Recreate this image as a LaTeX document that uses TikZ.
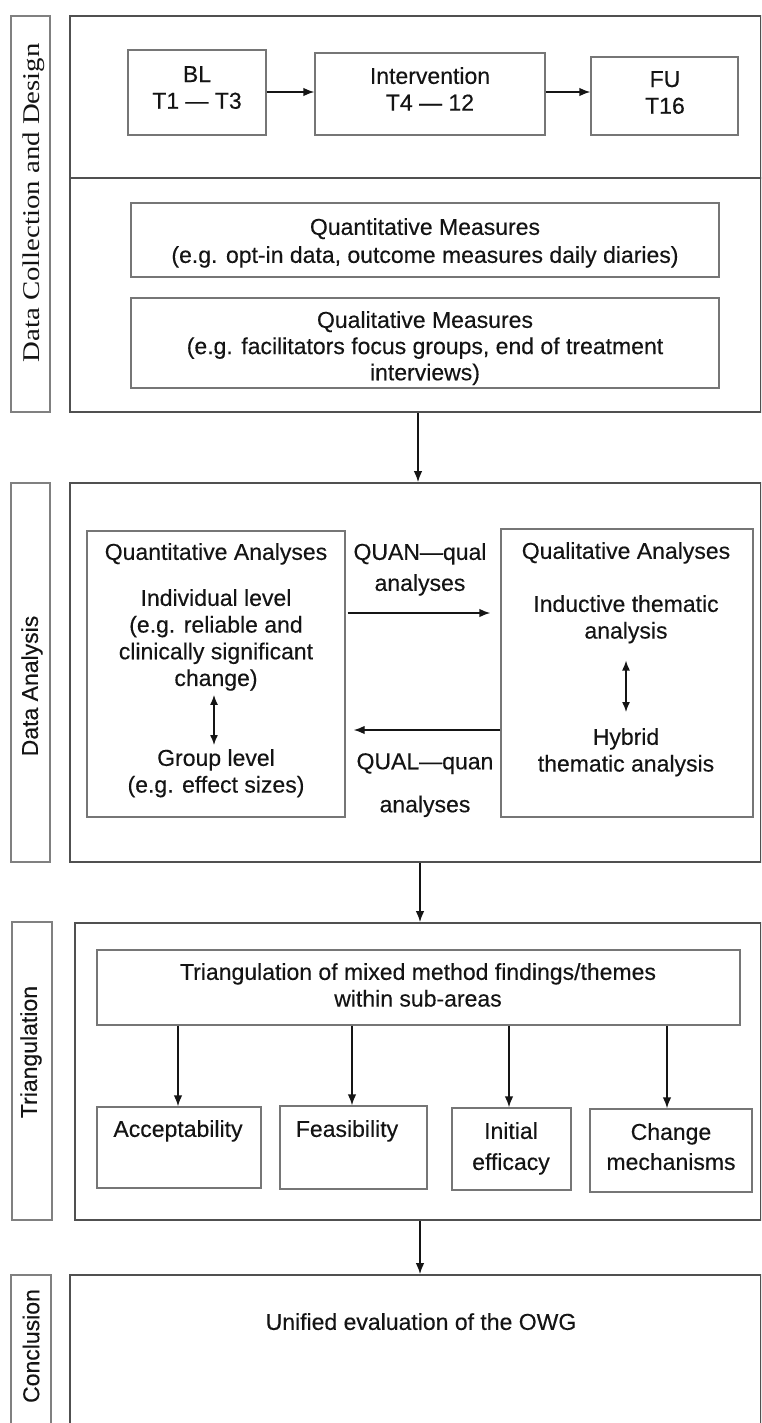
\documentclass[tikz,border=0pt]{standalone}
\usepackage{fontspec}
\setmainfont[FakeBold=0.3]{Liberation Sans}
\newfontfamily\labserif[FakeStretch=1.2]{Liberation Serif}
\usetikzlibrary{arrows.meta}
\definecolor{mainc}{HTML}{505050}
\definecolor{innc}{HTML}{767676}
\definecolor{labc}{HTML}{808080}
\definecolor{arrc}{HTML}{151515}
\begin{document}
\begin{tikzpicture}[x=1pt,y=-1pt,
  mainbox/.style={draw=mainc, line width=1.8pt, inner sep=0pt},
  labbox/.style={draw=labc, line width=1.4pt, inner sep=0pt},
  inbox/.style={draw=innc, line width=1.4pt, inner sep=0pt},
  txt/.style={inner sep=0pt, align=center, anchor=north, text=black!92, font=\fontsize{23}{26.7}\selectfont},
  labtxt/.style={inner sep=0pt, rotate=90, text=black!92, font=\fontsize{23}{26.7}\selectfont},
  arr/.style={draw=arrc, line width=1.4pt, -{Latex[length=11pt,width=8.5pt]}},
  dbl/.style={draw=arrc, line width=1.4pt, {Latex[length=10pt,width=8pt]}-{Latex[length=10pt,width=8pt]}}
]
\useasboundingbox (0,0) rectangle (761,1423);
\clip (0,0) rectangle (761,1423);
\fill[white] (0,0) rectangle (761,1423);

% ---------- Section 1 ----------
\node[labbox, minimum width=39pt, minimum height=396pt] (l1) at (30.5,214) {};
\node[inner sep=0pt, rotate=90, text=black!92, font=\labserif\fontsize{24}{27}\selectfont] (l1t) at (34,203) {Data Collection and Design};
\node[mainbox, minimum width=691pt, minimum height=396pt] (m1) at (415.5,214) {};
\draw[mainc, line width=1.8pt] (m1.west |- 0,178) -- (m1.east |- 0,178);

\node[inbox, minimum width=138pt, minimum height=85pt] (bl) at (197,92.5) {};
\node[txt] (blt) at (197,66) {BL\\T1 --- T3};
\node[inbox, minimum width=230pt, minimum height=82pt] (int) at (430,94) {};
\node[txt] (intt) at (430,67) {Intervention\\T4 --- 12};
\node[inbox, minimum width=147pt, minimum height=78pt] (fu) at (664.5,96) {};
\node[txt] (fut) at (665,71) {FU\\T16};
\draw[arr] (bl.east |- 0,92) -- (int.west |- 0,92);
\draw[arr] (int.east |- 0,92) -- (fu.west |- 0,92);

\node[inbox, minimum width=588pt, minimum height=74pt] (qm) at (425,240) {};
\node[txt, font=\fontsize{23}{28}\selectfont] (qmt) at (425,218) {Quantitative Measures\\(e.g. opt-in data, outcome measures daily diaries)};
\node[inbox, minimum width=588pt, minimum height=90pt] (qlm) at (425,343) {};
\node[txt, font=\fontsize{23}{26.2}\selectfont] (qlmt) at (425,311) {Qualitative Measures\\(e.g. facilitators focus groups, end of treatment\\interviews)};

% ---------- Section 2 ----------
\node[labbox, minimum width=39pt, minimum height=379pt] (l2) at (30.5,672.5) {};
\node[labtxt] (l2t) at (32,686) {Data Analysis};
\node[mainbox, minimum width=691pt, minimum height=379pt] (m2) at (415.5,672.5) {};
\draw[arr] (m1.south -| 418,0) -- (m2.north -| 418,0);

\node[inbox, minimum width=258pt, minimum height=286pt] (qa) at (216,674) {};
\node[txt] (qat) at (216,543) {Quantitative Analyses};
\node[txt] (qai) at (216,589) {Individual level\\(e.g. reliable and\\clinically significant\\change)};
\node[txt] (qag) at (216,749) {Group level\\(e.g. effect sizes)};
\path (qai.south -| 214,0) ++(0,4) coordinate (qd1);
\path (qag.north -| 214,0) ++(0,-4) coordinate (qd2);
\draw[dbl] (qd1) -- (qd2);

\node[inbox, minimum width=252pt, minimum height=288pt] (ql) at (627,673) {};
\node[txt] (qlt) at (626,542) {Qualitative Analyses};
\node[txt] (qli) at (626,595) {Inductive thematic\\analysis};
\node[txt] (qlh) at (626,728) {Hybrid\\thematic analysis};
\path (qli.south) ++(0,17) coordinate (qe1);
\path (qlh.north) ++(0,-16) coordinate (qe2);
\draw[dbl] (qe1) -- (qe2);

\node[txt, font=\fontsize{23}{31}\selectfont] (lab1) at (420,543) {QUAN---qual\\analyses};
\node[txt, font=\fontsize{23}{43}\selectfont] (lab2) at (425,753) {QUAL---quan\\analyses};
\draw[arr, shorten <=2pt, shorten >=10pt] (qa.east |- 0,613) -- (ql.west |- 0,613);
\draw[arr, shorten >=8pt] (ql.west |- 0,730) -- (qa.east |- 0,730);

% ---------- Section 3 ----------
\node[labbox, minimum width=40pt, minimum height=298pt] (l3) at (32,1071) {};
\node[labtxt] (l3t) at (31,1052) {Triangulation};
\node[mainbox, minimum width=686pt, minimum height=297pt] (m3) at (418,1071.5) {};
\draw[arr] (m2.south -| 420,0) -- (m3.north -| 420,0);

\node[inbox, minimum width=643pt, minimum height=75pt] (tri) at (418.5,987.5) {};
\node[txt] (trit) at (418,963) {Triangulation of mixed method findings/themes\\within sub-areas};

\node[inbox, minimum width=164pt, minimum height=81pt] (acc) at (179,1147.5) {};
\node[txt] (acct) at (178,1120) {Acceptability};
\node[inbox, minimum width=147pt, minimum height=83pt] (fea) at (353.5,1147.5) {};
\node[txt] (feat) at (347,1120) {Feasibility};
\node[inbox, minimum width=119pt, minimum height=82pt] (ini) at (511.5,1149) {};
\node[txt, font=\fontsize{23}{31}\selectfont] (init) at (511,1122) {Initial\\efficacy};
\node[inbox, minimum width=162pt, minimum height=83pt] (chg) at (671,1150.5) {};
\node[txt, font=\fontsize{23}{30}\selectfont] (chgt) at (671,1123) {Change\\mechanisms};

\draw[arr] (tri.south -| 178,0) -- (acc.north -| 178,0);
\draw[arr] (tri.south -| 352,0) -- (fea.north -| 352,0);
\draw[arr] (tri.south -| 509,0) -- (ini.north -| 509,0);
\draw[arr] (tri.south -| 667,0) -- (chg.north -| 667,0);

% ---------- Section 4 ----------
\node[labbox, minimum width=40pt, minimum height=170pt] (l4) at (31,1360) {};
\node[labtxt] (l4t) at (31,1346) {Conclusion};
\node[mainbox, minimum width=691pt, minimum height=170pt] (m4) at (415.5,1360) {};
\draw[arr] (m3.south -| 420,0) -- (m4.north -| 420,0);
\node[txt] (unit) at (421,1313) {Unified evaluation of the OWG};
\end{tikzpicture}
\end{document}
